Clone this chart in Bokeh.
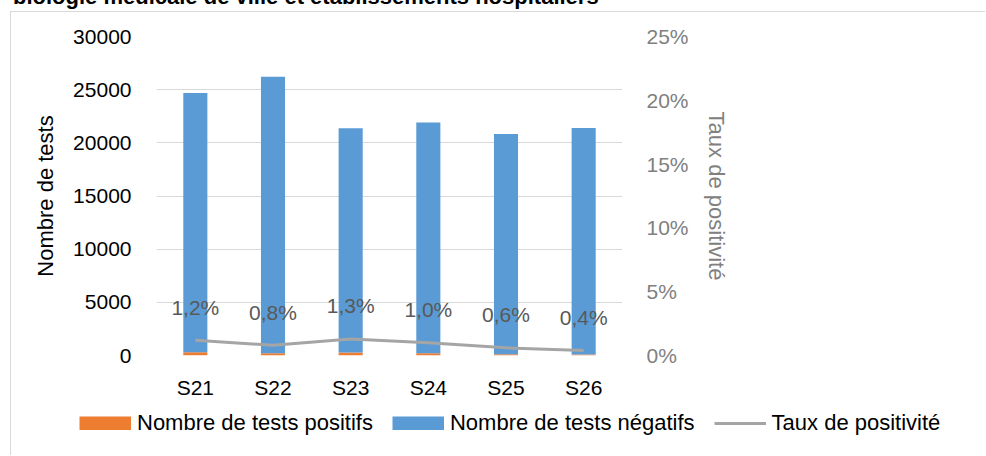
from bokeh.plotting import figure
from bokeh.layouts import column, row
from bokeh.models import (ColumnDataSource, FactorRange, Range1d, LinearAxis, FixedTicker,
                          PrintfTickFormatter, NumeralTickFormatter, Legend, LegendItem, Div)
from bokeh.core.properties import value
from bokeh.embed import file_html
from bokeh.resources import INLINE

# ---- data ----
weeks = ["S21", "S22", "S23", "S24", "S25", "S26"]
positives = [296, 210, 278, 219, 125, 86]
negatives = [24400, 26000, 21100, 21700, 20700, 21300]
rates = [0.012, 0.008, 0.013, 0.010, 0.006, 0.004]
left_ticks = [0, 5000, 10000, 15000, 20000, 25000, 30000]
right_ticks = [0, 0.05, 0.10, 0.15, 0.20, 0.25]
title_text = "biologie médicale de ville et établissements hospitaliers"
legend_labels = ["Nombre de tests positifs", "Nombre de tests négatifs", "Taux de positivité"]

rate_labels = [f"{r*100:.1f}%".replace(".", ",") for r in rates]

FONT = "Liberation Sans"
ORANGE = "#ED7D31"
BLUE = "#5B9BD5"
GRAY = "#A5A5A5"
GRID = "#D9D9D9"
BORDER = "1px solid #D9D9D9"

# ---- cut-off title strip ----
title_div = Div(
    text=(f'<div style="position:relative;top:-14px;left:13px;white-space:nowrap;'
          f'font-family:\'Liberation Sans\';font-size:22px;line-height:22px;'
          f'font-weight:bold;color:#000000">{title_text}</div>'),
    width=986, height=11, margin=(0, 0, 0, 0))

# ---- main chart ----
src = ColumnDataSource(dict(week=weeks, pos=positives, neg=negatives, rate=rates, lab=rate_labels))

p = figure(width=975, height=398, output_backend="svg", toolbar_location=None,
           x_range=FactorRange(*weeks, range_padding=0), y_range=Range1d(0, 30000),
           min_border_left=145, min_border_right=364, min_border_top=24, min_border_bottom=55,
           margin=(0, 0, 0, 10))
p.styles = {"border-left": BORDER, "border-top": BORDER}
p.outline_line_color = None
p.background_fill_color = "white"
p.border_fill_color = "white"
p.extra_y_ranges = {"rate": Range1d(0, 0.25)}

bars = p.vbar_stack(["pos", "neg"], x="week", width=0.31, color=[ORANGE, BLUE],
                    line_color=None, source=src)
line = p.line(x="week", y="rate", y_range_name="rate", line_color=GRAY, line_width=3,
              source=src)
p.text(x="week", y="rate", text="lab", y_range_name="rate", source=src,
       text_align="center", text_baseline="alphabetic", y_offset=-33,
       text_font=value(FONT), text_font_size="21px", text_color="#595959")

p.xgrid.visible = False
p.ygrid.ticker = FixedTicker(ticks=left_ticks)
p.ygrid.grid_line_color = GRID
p.ygrid.grid_line_width = 1

ya = p.yaxis[0]
ya.ticker = FixedTicker(ticks=left_ticks)
ya.formatter = PrintfTickFormatter(format="%d")
ya.axis_line_color = None
ya.major_tick_line_color = None
ya.minor_tick_line_color = None
ya.major_label_standoff = 19
ya.major_label_text_font = FONT
ya.major_label_text_font_size = "21px"
ya.major_label_text_color = "#000000"
ya.axis_label = "Nombre de tests"
ya.axis_label_text_font = FONT
ya.axis_label_text_font_size = "22px"
ya.axis_label_text_font_style = "normal"
ya.axis_label_text_color = "#000000"
ya.axis_label_standoff = 12

xa = p.xaxis[0]
xa.axis_line_color = None
xa.major_tick_line_color = None
xa.minor_tick_line_color = None
xa.major_label_standoff = 14
xa.major_label_text_font = FONT
xa.major_label_text_font_size = "21px"
xa.major_label_text_color = "#000000"

ra = LinearAxis(y_range_name="rate", ticker=FixedTicker(ticks=right_ticks),
                formatter=NumeralTickFormatter(format="0%"))
ra.axis_line_color = None
ra.major_tick_line_color = None
ra.minor_tick_line_color = None
ra.major_label_standoff = 18
ra.major_label_text_font = FONT
ra.major_label_text_font_size = "21px"
ra.major_label_text_color = "#808080"
ra.axis_label = "Taux de positivité"
ra.axis_label_text_font = FONT
ra.axis_label_text_font_size = "22px"
ra.axis_label_text_font_style = "normal"
ra.axis_label_text_color = "#808080"
ra.axis_label_standoff = 12
p.add_layout(ra, "right")

# ---- legend strip (its own small figure, frame = whole strip) ----
lf = figure(width=975, height=46, output_backend="svg", toolbar_location=None,
            x_range=Range1d(0, 1), y_range=Range1d(0, 1),
            x_axis_type=None, y_axis_type=None,
            min_border_left=0, min_border_right=0, min_border_top=0, min_border_bottom=0,
            margin=(0, 0, 0, 10))
lf.styles = {"border-left": BORDER}
lf.outline_line_color = None
lf.xgrid.visible = False
lf.ygrid.visible = False
# swatch renderers: placed outside the strip's ranges, only their legend glyphs show
off = ColumnDataSource(dict(x=[-10, -9], y=[-10, -10]))
sw_pos = lf.line(x="x", y="y", source=off, line_color=ORANGE, line_width=14)
sw_neg = lf.line(x="x", y="y", source=off, line_color=BLUE, line_width=14)
sw_rate = lf.line(x="x", y="y", source=off, line_color=GRAY, line_width=3)

legend = Legend(items=[LegendItem(label=legend_labels[0], renderers=[sw_pos]),
                       LegendItem(label=legend_labels[1], renderers=[sw_neg]),
                       LegendItem(label=legend_labels[2], renderers=[sw_rate])],
                location=(68, 19), orientation="horizontal",
                glyph_width=52, glyph_height=14, label_standoff=6, spacing=19,
                padding=0, margin=0, border_line_color=None, background_fill_alpha=0,
                label_text_font=FONT, label_text_font_size="22px",
                label_text_color="#000000")
lf.add_layout(legend, "center")

layout = column(title_div, p, row(lf, margin=(0, 0, 0, 0)), spacing=0)
open("out.html", "w").write(file_html(layout, INLINE))
